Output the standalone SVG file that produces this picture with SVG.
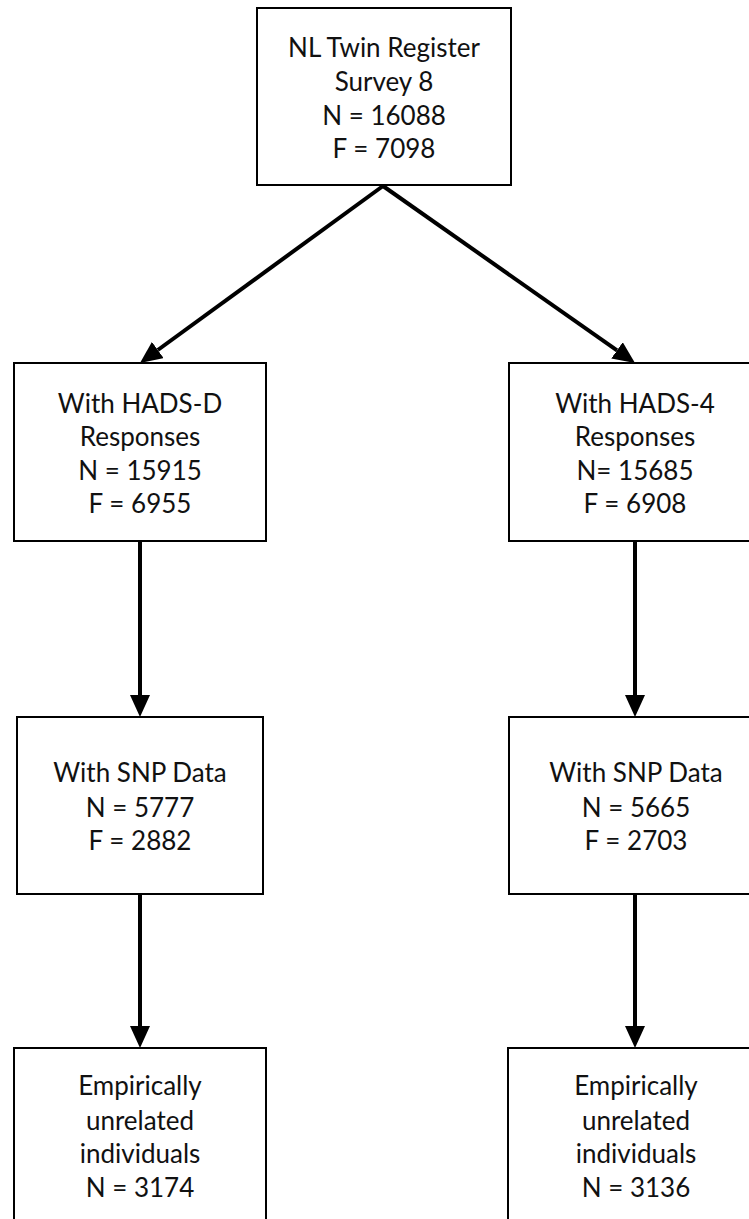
<svg xmlns="http://www.w3.org/2000/svg" width="749" height="1219" viewBox="0 0 749 1219">
<style>
.box{fill:#fff;stroke:#000;stroke-width:2}
.t{font-family:Lato,"Open Sans","Liberation Sans",sans-serif;font-size:26px;fill:#111;text-anchor:middle}
.c{stroke:#000;stroke-width:4;fill:none}
</style>
<defs>
<marker id="ah" markerUnits="userSpaceOnUse" markerWidth="22" markerHeight="20" refX="0" refY="10" orient="auto" viewBox="0 0 22 20">
<path d="M0,0 L22,10 L0,20 z" fill="#000"/>
</marker>
</defs>
<rect width="749" height="1219" fill="#fff"/>
<g id="connectors">
<line class="c" x1="383" y1="186" x2="157.8" y2="350" marker-end="url(#ah)"/>
<line class="c" x1="383" y1="186" x2="617" y2="350.4" marker-end="url(#ah)"/>
<line class="c" x1="140" y1="541" x2="140" y2="695" marker-end="url(#ah)"/>
<line class="c" x1="635" y1="541" x2="635" y2="695" marker-end="url(#ah)"/>
<line class="c" x1="140" y1="894" x2="140" y2="1026" marker-end="url(#ah)"/>
<line class="c" x1="635" y1="894" x2="635" y2="1026" marker-end="url(#ah)"/>
</g>
<g id="n-top">
<rect class="box" x="257" y="8" width="254" height="177"/>
<text class="t" x="384" y="57">NL Twin Register</text>
<text class="t" x="384" y="91">Survey 8</text>
<text class="t" x="384" y="125">N = 16088</text>
<text class="t" x="384" y="158">F = 7098</text>
</g>
<g id="n-hadsd">
<rect class="box" x="14" y="363" width="252" height="178"/>
<text class="t" x="140" y="413">With HADS-D</text>
<text class="t" x="140" y="446">Responses</text>
<text class="t" x="140" y="480">N = 15915</text>
<text class="t" x="140" y="513">F = 6955</text>
</g>
<g id="n-hads4">
<rect class="box" x="509" y="363" width="250" height="178"/>
<text class="t" x="635" y="413">With HADS-4</text>
<text class="t" x="635" y="446">Responses</text>
<text class="t" x="635" y="480">N= 15685</text>
<text class="t" x="635" y="513">F = 6908</text>
</g>
<g id="n-snp-left">
<rect class="box" x="17" y="717" width="246" height="177"/>
<text class="t" x="140" y="782">With SNP Data</text>
<text class="t" x="140" y="817">N = 5777</text>
<text class="t" x="140" y="850">F = 2882</text>
</g>
<g id="n-snp-right">
<rect class="box" x="509" y="717" width="250" height="177"/>
<text class="t" x="636" y="782">With SNP Data</text>
<text class="t" x="636" y="817">N = 5665</text>
<text class="t" x="636" y="850">F = 2703</text>
</g>
<g id="n-unrel-left">
<rect class="box" x="14" y="1048" width="252" height="200"/>
<text class="t" x="140" y="1095">Empirically</text>
<text class="t" x="140" y="1130">unrelated</text>
<text class="t" x="140" y="1163">individuals</text>
<text class="t" x="140" y="1197">N = 3174</text>
</g>
<g id="n-unrel-right">
<rect class="box" x="508" y="1048" width="250" height="200"/>
<text class="t" x="636" y="1095">Empirically</text>
<text class="t" x="636" y="1130">unrelated</text>
<text class="t" x="636" y="1163">individuals</text>
<text class="t" x="636" y="1197">N = 3136</text>
</g>
</svg>
